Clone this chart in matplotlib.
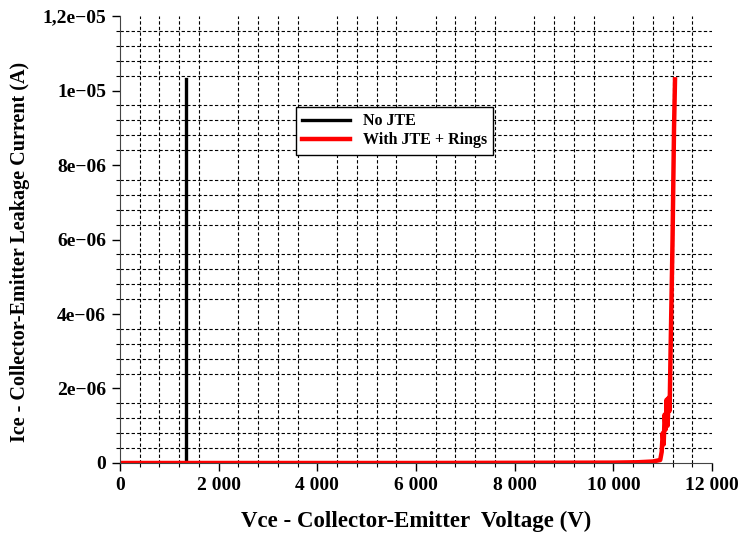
import numpy as np
import matplotlib.pyplot as plt
from matplotlib.ticker import MultipleLocator, FuncFormatter

# Datos (Vce en V, Ice en A)
vce_no_jte = [0, 1330, 1330]
ice_no_jte = [0, 0, 1.03e-05]

vce_jte = [0, 2000, 6000, 10000, 10500, 10800, 10950, 10980, 11000, 11020,
           11040, 11060, 11080, 11100, 11120, 11140, 11160, 11200, 11230, 11250]
ice_jte = [0, 0, 0, 0.01e-06, 0.02e-06, 0.04e-06, 0.08e-06, 0.3e-06, 0.8e-06, 0.5e-06,
           1.3e-06, 0.9e-06, 1.7e-06, 1.0e-06, 1.75e-06, 1.4e-06, 3.0e-06, 6.0e-06, 9.0e-06, 1.03e-05]

y_labels = {0: '0', 2e-06: '2e\u221206', 4e-06: '4e\u221206', 6e-06: '6e\u221206',
            8e-06: '8e\u221206', 1e-05: '1e\u221205', 1.2e-05: '1,2e\u221205'}

plt.rcParams['font.family'] = 'Liberation Serif'
plt.rcParams['font.weight'] = 'bold'

fig = plt.figure(figsize=(7.38, 5.35), dpi=100)
ax = fig.add_axes([0.1626, 0.1346, 0.8022, 0.8354])

ax.plot(vce_no_jte, ice_no_jte, color='black', lw=2.4, label='No JTE')
ax.plot(vce_jte, ice_jte, color='#ff0000', lw=3.2, label='With JTE + Rings')

ax.set_xlim(0, 12000)
ax.set_ylim(0, 1.2e-05)
ax.xaxis.set_major_locator(MultipleLocator(2000))
ax.xaxis.set_minor_locator(MultipleLocator(400))
ax.yaxis.set_major_locator(MultipleLocator(2e-06))
ax.yaxis.set_minor_locator(MultipleLocator(4e-07))
ax.xaxis.set_major_formatter(FuncFormatter(lambda v, p: '{:,.0f}'.format(v).replace(',', ' ')))
ax.yaxis.set_major_formatter(FuncFormatter(
    lambda v, p: min(y_labels.items(), key=lambda kv: abs(kv[0] - v))[1]))

ax.grid(which='minor', color='black', linestyle=(0, (3, 2)), linewidth=0.8)
ax.tick_params(which='major', direction='out', length=6, width=1, labelsize=14, pad=4)
ax.tick_params(which='minor', direction='out', length=3, width=0.8)
for lado in ['top', 'right']:
    ax.spines[lado].set_visible(False)
ax.spines['left'].set_color('#444444')
ax.spines['bottom'].set_color('#444444')
ax.set_axisbelow(True)

ax.set_xlabel('Vce - Collector-Emitter  Voltage (V)', fontsize=16.5, fontweight='bold', labelpad=12)
ax.set_ylabel('Ice - Collector-Emitter Leakage Current (A)', fontsize=14.5, fontweight='bold')
ax.yaxis.set_label_coords(-0.152, 0.472)

leg = ax.legend(loc='upper left', bbox_to_anchor=(0.283, 0.815), fontsize=11.5, frameon=True,
                fancybox=False, edgecolor='black', framealpha=1, handlelength=3.0,
                borderpad=0.4, labelspacing=0.2)
leg.get_frame().set_linewidth(1)

fig.savefig('out.png', dpi=100)
